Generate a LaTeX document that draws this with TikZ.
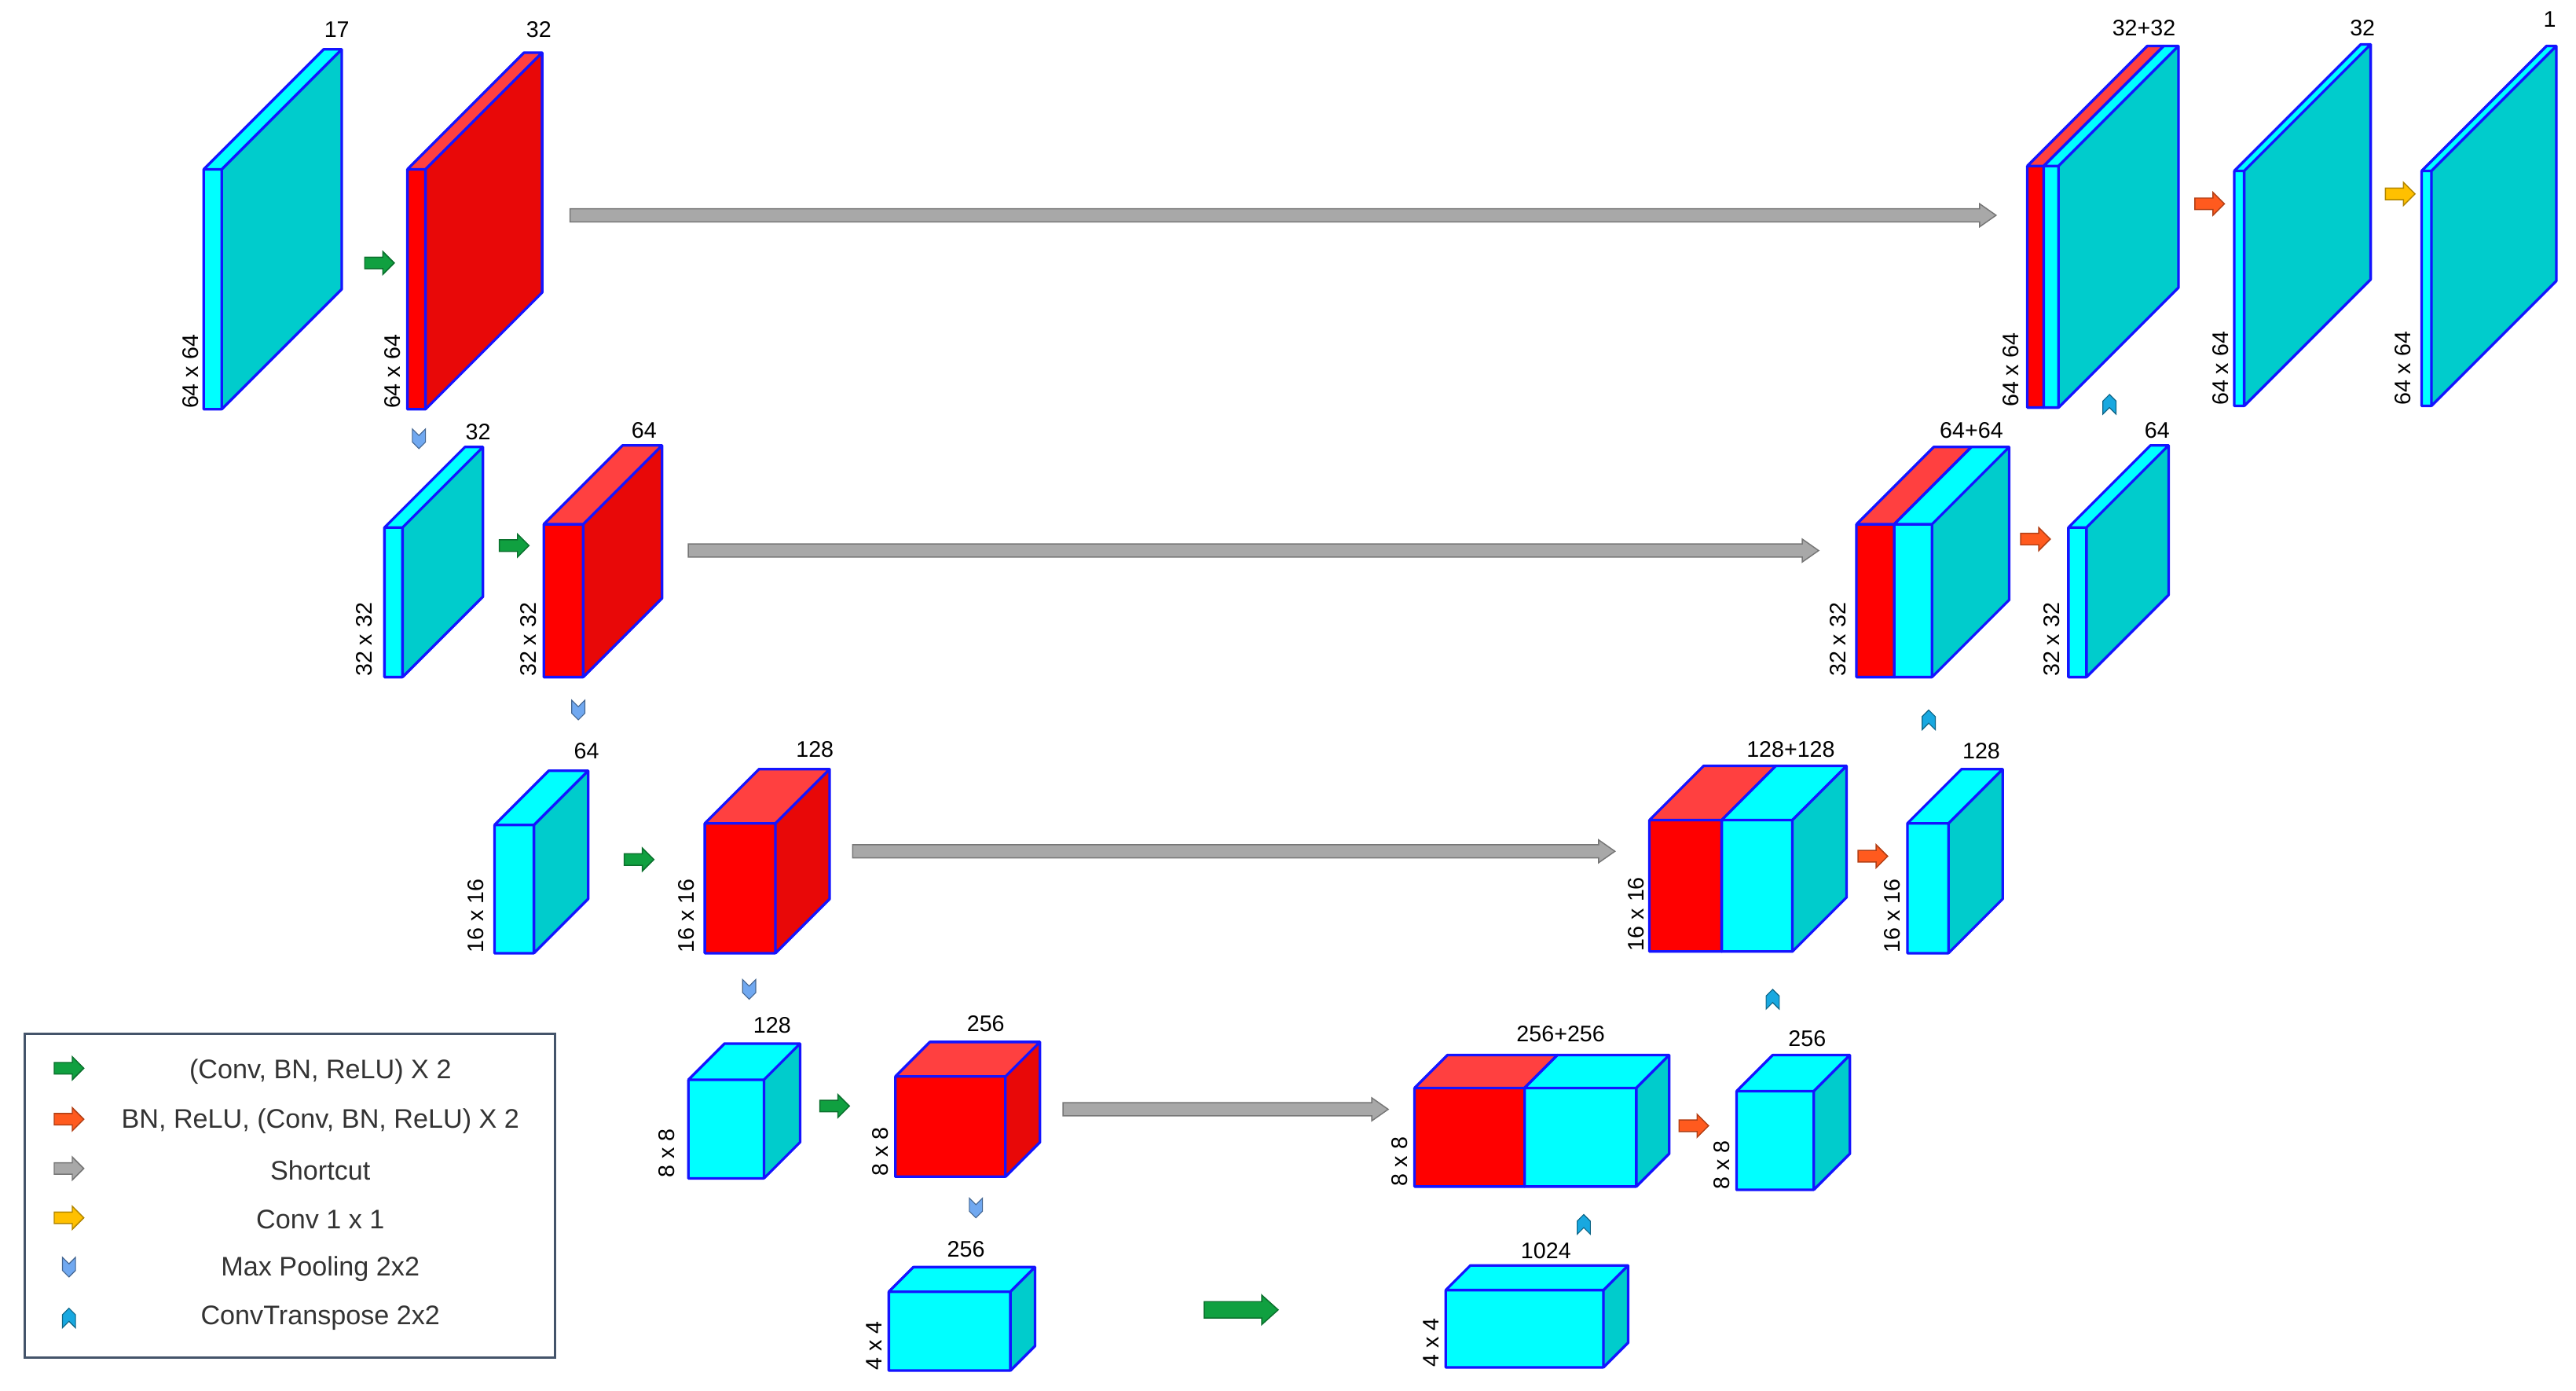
\documentclass[tikz,border=0pt]{standalone}
\usepackage{fontspec}
\setmainfont{Liberation Sans}
\usetikzlibrary{positioning}
\usetikzlibrary{calc}

\definecolor{cfront}{HTML}{00FFFF}
\definecolor{cside}{HTML}{00CCCC}
\definecolor{rfront}{HTML}{FF0000}
\definecolor{rtop}{HTML}{FF4040}
\definecolor{rside}{HTML}{E80808}
\definecolor{edge}{HTML}{1414FF}
\definecolor{agreen}{HTML}{10A040}
\definecolor{aorange}{HTML}{FF5A1E}
\definecolor{agray}{HTML}{A8A8A8}
\definecolor{ayellow}{HTML}{FFC000}
\definecolor{apool}{HTML}{70A8F0}
\definecolor{aup}{HTML}{18A8E0}
\definecolor{lframe}{HTML}{44546A}

% box: x-left, x-right, y-top, y-bottom, depth, front, top, side
\newcommand{\fmap}[8]{%
  \fill[#6] (#1,#3) rectangle (#2,#4);
  \fill[#7] (#1,#3) -- (#2,#3) -- ($(#2,#3)+(#5,-#5)$) -- ($(#1,#3)+(#5,-#5)$) -- cycle;
  \fill[#8] (#2,#3) -- ($(#2,#3)+(#5,-#5)$) -- ($(#2,#4)+(#5,-#5)$) -- (#2,#4) -- cycle;
  \draw[edge, line width=0.9pt, line join=round] (#1,#3) rectangle (#2,#4)
    (#1,#3) -- ($(#1,#3)+(#5,-#5)$) -- ($(#2,#3)+(#5,-#5)$) -- ($(#2,#4)+(#5,-#5)$) -- (#2,#4)
    (#2,#3) -- ($(#2,#3)+(#5,-#5)$);
}
% arrow: x-start, x-end, y, body half, head half, head length, colour
\newcommand{\flow}[7]{%
  \filldraw[fill=#7, draw=#7!70!black, line width=0.4pt] (#1,#3-#4) -- (#2-#6,#3-#4) -- (#2-#6,#3-#5) -- (#2,#3)
    -- (#2-#6,#3+#5) -- (#2-#6,#3+#4) -- (#1,#3+#4) -- cycle;
}
\newcommand{\pooldown}[2]{%
  \filldraw[fill=apool, draw=apool!60!black, line width=0.3pt] (#1-4,#2-6) -- (#1,#2-2) -- (#1+4,#2-6) -- (#1+4,#2+2) -- (#1,#2+6) -- (#1-4,#2+2) -- cycle;
}
\newcommand{\convup}[2]{%
  \filldraw[fill=aup, draw=aup!60!black, line width=0.3pt] (#1-4,#2+6) -- (#1,#2+2) -- (#1+4,#2+6) -- (#1+4,#2-2) -- (#1,#2-6) -- (#1-4,#2-2) -- cycle;
}

\begin{document}
\begin{tikzpicture}[x=0.02cm, y=-0.02cm,
    num/.style={font=\fontsize{7.8}{9}\selectfont, inner sep=0pt},
    size/.style={font=\fontsize{7.8}{9}\selectfont, inner sep=0pt, rotate=90, anchor=south west},
    legend/.style={font=\fontsize{9.3}{11}\selectfont, text=black!80, inner sep=0pt},
]
\useasboundingbox (0,0) rectangle (1568,846);

% encoder
\fmap{124}{135}{103}{249}{73}{cfront}{cfront}{cside}
\fmap{248}{259}{103}{249}{71}{rfront}{rtop}{rside}
\fmap{234}{245}{321}{412}{49}{cfront}{cfront}{cside}
\fmap{331}{355}{319}{412}{48}{rfront}{rtop}{rside}
\fmap{301}{325}{502}{580}{33}{cfront}{cfront}{cside}
\fmap{429}{472}{501}{580}{33}{rfront}{rtop}{rside}
\fmap{419}{465}{657}{717}{22}{cfront}{cfront}{cside}
\fmap{545}{612}{655}{716}{21}{rfront}{rtop}{rside}
\fmap{541}{615}{786}{834}{15}{cfront}{cfront}{cside}

% decoder
\fmap{880}{976}{785}{832}{15}{cfront}{cfront}{cside}
\fmap{861}{928}{662}{722}{20}{rfront}{rtop}{rside}
\fmap{928}{996}{662}{722}{20}{cfront}{cfront}{cside}
\fmap{1057}{1104}{664}{724}{22}{cfront}{cfront}{cside}
\fmap{1004}{1048}{499}{579}{33}{rfront}{rtop}{rside}
\fmap{1048}{1091}{499}{579}{33}{cfront}{cfront}{cside}
\fmap{1161}{1186}{501}{580}{33}{cfront}{cfront}{cside}
\fmap{1130}{1153}{319}{412}{47}{rfront}{rtop}{rside}
\fmap{1153}{1176}{319}{412}{47}{cfront}{cfront}{cside}
\fmap{1259}{1270}{321}{412}{50}{cfront}{cfront}{cside}
\fmap{1234}{1244}{101}{248}{73}{rfront}{rtop}{rside}
\fmap{1244}{1253}{101}{248}{73}{cfront}{cfront}{cside}
\fmap{1360}{1366}{104}{247}{77}{cfront}{cfront}{cside}
\fmap{1474}{1480}{104}{247}{76}{cfront}{cfront}{cside}

% channel labels
\node[num] (c1) at (205,18) {17};
\node[num] (c2) at (328,18) {32};
\node[num] (c3) at (291,263) {32};
\node[num] (c4) at (392,262) {64};
\node[num] (c5) at (357,457) {64};
\node[num] (c6) at (496,456) {128};
\node[num] (c7) at (470,624) {128};
\node[num] (c8) at (600,623) {256};
\node[num] (c9) at (588,760) {256};
\node[num] (c10) at (941,761) {1024};
\node[num] (c11) at (950,629) {256+256};
\node[num] (c12) at (1100,632) {256};
\node[num] (c13) at (1090,456) {128+128};
\node[num] (c14) at (1206,457) {128};
\node[num] (c15) at (1200,262) {64+64};
\node[num] (c16) at (1313,262) {64};
\node[num] (c17) at (1305,17) {32+32};
\node[num] (c18) at (1438,17) {32};
\node[num] (c19) at (1552,12) {1};

% size labels
\foreach \x/\y/\t [count=\i] in {121/249/64 x 64, 244/249/64 x 64, 1229/248/64 x 64, 1357/247/64 x 64, 1468/247/64 x 64,
    227/412/32 x 32, 327/412/32 x 32, 1124/412/32 x 32, 1254/412/32 x 32,
    295/580/16 x 16, 423/580/16 x 16, 1001/579/16 x 16, 1157/580/16 x 16,
    411/717/8 x 8, 541/716/8 x 8, 857/722/8 x 8, 1053/724/8 x 8,
    537/834/4 x 4, 876/832/4 x 4}
  {\node[size] (s\i) at (\x,\y) {\t};}

% shortcuts
\flow{347}{1215}{131}{4}{7}{10}{agray}
\flow{419}{1107}{335}{4}{7}{10}{agray}
\flow{519}{983}{518}{4}{7}{10}{agray}
\flow{647}{845}{675}{4}{7}{10}{agray}

% convolutions
\foreach \x/\y in {231/160, 313/332, 389/523, 508/673}
  {\flow{\x-9}{\x+9}{\y}{3.5}{7}{7}{agreen}}
\flow{733}{778}{797}{5}{9}{10}{agreen}
\foreach \x/\y in {1345/124, 1239/328, 1140/521, 1031/685}
  {\flow{\x-9}{\x+9}{\y}{3.5}{7}{7}{aorange}}
\flow{1452}{1470}{118}{3.5}{7}{7}{ayellow}

% pooling and up-convolution
\pooldown{255}{267}
\pooldown{352}{432}
\pooldown{456}{602}
\pooldown{594}{735}
\convup{964}{745}
\convup{1079}{608}
\convup{1174}{438}
\convup{1284}{246}

% legend
\draw[lframe, line width=0.8pt] (15,629) rectangle (338,826);
\flow{33}{51}{650}{3.5}{7}{7}{agreen}
\flow{33}{51}{681}{3.5}{7}{7}{aorange}
\flow{33}{51}{711}{3.5}{7}{7}{agray}
\flow{33}{51}{741}{3.5}{7}{7}{ayellow}
\pooldown{42}{771}
\convup{42}{802}
\node[legend] (l1) at (195,652) {(Conv, BN, ReLU) X 2};
\node[legend] (l2) at (195,682) {BN, ReLU, (Conv, BN, ReLU) X 2};
\node[legend] (l3) at (195,712) {Shortcut};
\node[legend] (l4) at (195,742) {Conv 1 x 1};
\node[legend] (l5) at (195,772) {Max Pooling 2x2};
\node[legend] (l6) at (195,802) {ConvTranspose 2x2};
\end{tikzpicture}
\end{document}
